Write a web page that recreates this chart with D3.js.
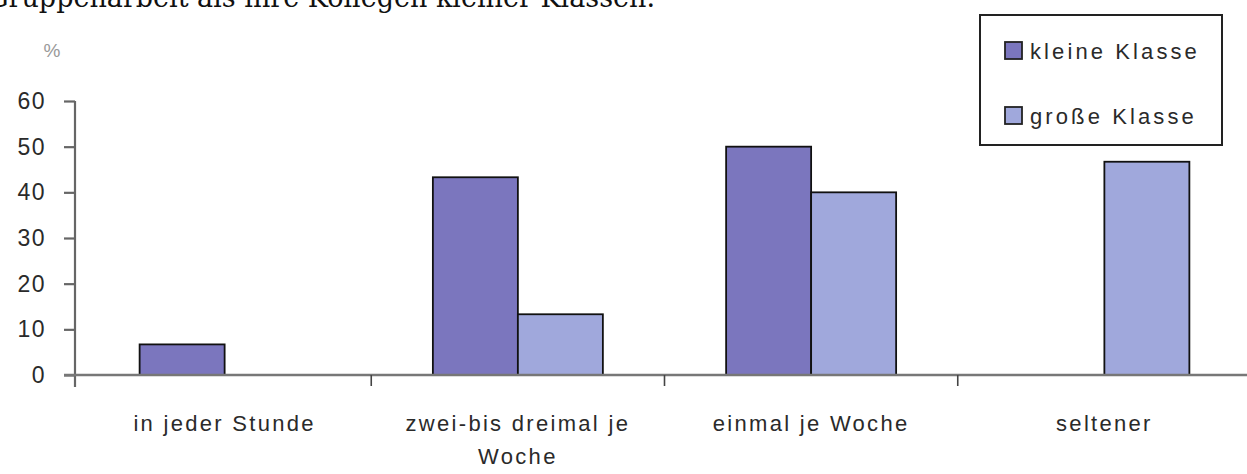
<!DOCTYPE html>
<html>
<head>
<meta charset="utf-8">
<script src="https://cdn.jsdelivr.net/npm/d3@7"></script>
<style>
  body { margin: 0; background: #fff; }
  svg { display: block; }
</style>
</head>
<body>
<div id="chart"></div>
<script>
// Daten
var categories = [["in jeder Stunde"], ["zwei-bis dreimal je", "Woche"], ["einmal je Woche"], ["seltener"]];
var seriesNames = ["kleine Klasse", "große Klasse"];
var kleineKlasse = [6.7, 43.3, 50, 0];
var grosseKlasse = [0, 13.3, 40, 46.7];
var yTicks = [0, 10, 20, 30, 40, 50, 60];
var colors = ["#7b76be", "#a0a8dc"];

var width = 1247, height = 474;
var labelFont = "'Liberation Sans', Arial, sans-serif";

var svg = d3.select("#chart").append("svg")
    .attr("width", width)
    .attr("height", height);

// abgeschnittener Fliesstext oben (im Original nur der untere Rand sichtbar)
svg.append("text")
    .attr("x", 655)
    .attr("y", 7)
    .attr("text-anchor", "end")
    .style("font-family", "'DejaVu Serif', serif")
    .style("font-size", "27px")
    .style("fill", "#111")
    .text("Gruppenarbeit als ihre Kollegen kleiner Klassen.");

var catKeys = categories.map(d => d.join(" "));
var x0 = d3.scaleBand().domain(catKeys).range([78, 1251]).padding(0);
var x1 = d3.scaleBand().domain(seriesNames).range([0, x0.bandwidth()]).paddingInner(0).paddingOuter(0.725);
var y = d3.scaleLinear().domain([0, 60]).range([375, 101]);

var rows = catKeys.map((c, i) => ({cat: c, values: [kleineKlasse[i], grosseKlasse[i]]}));

// Balken
var groups = svg.selectAll("g.cat")
    .data(rows)
    .join("g")
    .attr("class", "cat")
    .attr("transform", d => "translate(" + x0(d.cat) + ",0)");

groups.selectAll("rect")
    .data(d => d.values.map((v, j) => ({name: seriesNames[j], value: v, j: j})).filter(e => e.value > 0))
    .join("rect")
    .attr("x", d => x1(d.name))
    .attr("y", d => y(d.value))
    .attr("width", x1.bandwidth())
    .attr("height", d => y(0) - y(d.value))
    .attr("fill", d => colors[d.j])
    .attr("stroke", "#111")
    .attr("stroke-width", 1.8);

// y-Achse
var yAxis = d3.axisLeft(y).tickValues(yTicks).tickSize(11).tickPadding(18).tickSizeOuter(0);
var yg = svg.append("g").attr("transform", "translate(75,0)").call(yAxis);
yg.select(".domain").remove();
yg.append("line").attr("x1", 0).attr("x2", 0).attr("y1", y(60)).attr("y2", 387);
yg.selectAll("line").attr("stroke", "#666").attr("stroke-width", 2.2);
yg.selectAll("text")
    .style("font-family", labelFont)
    .style("font-size", "23px")
    .style("letter-spacing", "1.5px")
    .style("fill", "#2a2a2a");

svg.append("text")
    .attr("x", 52).attr("y", 57)
    .attr("text-anchor", "middle")
    .style("font-family", labelFont)
    .style("font-size", "19px")
    .style("fill", "#999")
    .text("%");

// x-Achse
svg.append("line")
    .attr("x1", 64).attr("x2", width)
    .attr("y1", y(0)).attr("y2", y(0))
    .attr("stroke", "#777").attr("stroke-width", 2.6);

svg.selectAll("line.cattick")
    .data(catKeys.slice(1))
    .join("line")
    .attr("class", "cattick")
    .attr("x1", d => x0(d)).attr("x2", d => x0(d))
    .attr("y1", y(0)).attr("y2", y(0) + 11)
    .attr("stroke", "#444").attr("stroke-width", 1.6);

var catLabels = svg.selectAll("text.catlabel")
    .data(categories)
    .join("text")
    .attr("class", "catlabel")
    .attr("text-anchor", "middle")
    .attr("transform", (d, i) => "translate(" + (x0(catKeys[i]) + x0.bandwidth() / 2) + ",431)")
    .style("font-family", labelFont)
    .style("font-size", "22px")
    .style("letter-spacing", "2.3px")
    .style("fill", "#2a2a2a");

catLabels.selectAll("tspan")
    .data(d => d)
    .join("tspan")
    .attr("x", 0)
    .attr("dy", (d, i) => i === 0 ? 0 : 33)
    .text(d => d);

// Legende
var legend = svg.append("g").attr("transform", "translate(980,15)");
legend.append("rect")
    .attr("width", 242).attr("height", 130)
    .attr("fill", "#fff")
    .attr("stroke", "#222").attr("stroke-width", 2);

var items = legend.selectAll("g.item")
    .data(seriesNames)
    .join("g")
    .attr("class", "item")
    .attr("transform", (d, i) => "translate(25," + (27 + i * 65) + ")");

items.append("rect")
    .attr("width", 17).attr("height", 17)
    .attr("fill", (d, i) => colors[i])
    .attr("stroke", "#222").attr("stroke-width", 1.8);

items.append("text")
    .attr("x", 25).attr("y", 17)
    .style("font-family", labelFont)
    .style("font-size", "22px")
    .style("letter-spacing", "3.1px")
    .style("fill", "#2a2a2a")
    .text(d => d);
</script>
</body>
</html>
